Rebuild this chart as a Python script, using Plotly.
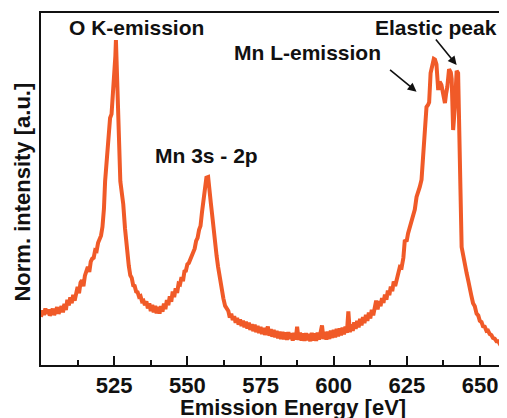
import plotly.graph_objects as go

# ---------------- data ----------------
# Region A: 500 - 520.5 eV (low-energy baseline and rise of O K)
energy_a = [500.0, 500.5, 501.0, 501.5, 502.0, 502.5, 503.0, 503.5, 504.0, 504.5,
            505.0, 505.5, 506.0, 506.5, 507.0, 507.5, 508.0, 508.5, 509.0, 509.5,
            510.0, 510.5, 511.0, 511.5, 512.0, 512.5, 513.0, 513.5, 514.0, 514.5,
            515.0, 515.5, 516.0, 516.5, 517.0, 517.5, 518.0, 518.5, 519.0, 519.5,
            520.0, 520.5]
intensity_a = [0.148, 0.168, 0.154, 0.174, 0.157, 0.171, 0.152, 0.167, 0.173, 0.154,
               0.169, 0.178, 0.158, 0.172, 0.181, 0.162, 0.188, 0.169, 0.201, 0.183,
               0.208, 0.190, 0.216, 0.198, 0.230, 0.240, 0.221, 0.253, 0.261, 0.242,
               0.275, 0.285, 0.302, 0.286, 0.318, 0.327, 0.330, 0.353, 0.351, 0.376,
               0.390, 0.398]

# Region B: O K-emission peak
energy_b = [521.0, 521.5, 521.9, 522.4, 523.0, 523.6, 524.1, 524.7, 525.1, 525.4,
            525.6, 525.9, 526.3, 526.7, 527.1, 527.6, 528.1, 528.7, 529.3, 530.0,
            530.5, 531.0, 531.5, 532.0, 532.5, 533.0, 533.5, 534.0, 534.5, 535.0,
            535.5]
intensity_b = [0.425, 0.480, 0.565, 0.615, 0.668, 0.760, 0.772, 0.845, 0.880, 0.950,
               1.000, 0.900, 0.770, 0.650, 0.565, 0.530, 0.495, 0.420, 0.350, 0.305,
               0.276, 0.268, 0.245, 0.243, 0.226, 0.224, 0.210, 0.212, 0.196, 0.198,
               0.184]

# Region C: valley and Mn 3s - 2p peak
energy_c = [536.0, 536.5, 537.0, 537.5, 538.0, 538.5, 539.0, 539.5, 540.0, 540.5,
            541.0, 541.5, 542.0, 542.5, 543.0, 543.5, 544.0, 544.5, 545.0, 545.5,
            546.0, 546.5, 547.0, 547.5, 548.0, 548.5, 549.0, 549.5, 550.0, 550.5,
            551.0, 551.5, 552.0, 552.5, 553.0, 553.5, 554.0, 554.5, 555.0, 555.5,
            556.0, 556.5, 557.1, 557.6, 558.0, 558.4, 558.9, 559.4, 560.0, 560.5,
            561.1, 561.7, 562.3, 562.9, 563.4]
intensity_c = [0.196, 0.174, 0.190, 0.166, 0.185, 0.162, 0.182, 0.159, 0.179, 0.158,
               0.181, 0.164, 0.189, 0.172, 0.200, 0.184, 0.211, 0.195, 0.226, 0.209,
               0.236, 0.222, 0.250, 0.248, 0.270, 0.258, 0.288, 0.290, 0.310, 0.314,
               0.326, 0.334, 0.350, 0.358, 0.382, 0.391, 0.416, 0.428, 0.470, 0.515,
               0.555, 0.576, 0.578, 0.545, 0.500, 0.468, 0.420, 0.375, 0.335, 0.302,
               0.262, 0.225, 0.205, 0.182, 0.172]

# Region D: broad minimum 564 - 621 eV
energy_d = [564.0, 564.5, 565.0, 565.5, 566.0, 566.5, 567.0, 567.5, 568.0, 568.5,
            569.0, 569.5, 570.0, 570.5, 571.0, 571.5, 572.0, 572.5, 573.0, 573.5,
            574.0, 574.5, 575.0, 575.5, 576.0, 576.5, 577.0, 577.5, 578.0, 578.5,
            579.0, 579.5, 580.0, 580.5, 581.0, 581.5, 582.0, 582.5, 583.0, 583.5,
            584.0, 584.5, 585.0, 585.5, 586.0, 586.5, 587.0, 587.5, 588.0, 588.5,
            589.0, 589.5, 590.0, 590.5, 591.0, 591.5, 592.0, 592.5, 593.0, 593.5,
            594.0, 594.5, 595.0, 595.5, 596.0, 596.5, 597.0, 597.5, 598.0, 598.5,
            599.0, 599.5, 600.0, 600.5, 601.0, 601.5, 602.0, 602.5, 603.0, 603.5,
            604.0, 604.5, 605.0, 605.5, 606.0, 606.5, 607.0, 607.5, 608.0, 608.5,
            609.0, 609.5, 610.0, 610.5, 611.0, 611.5, 612.0, 612.5, 613.0, 613.5,
            614.0, 614.5, 615.0, 615.5, 616.0, 616.5, 617.0, 617.5, 618.0, 618.5,
            619.0, 619.5, 620.0, 620.5, 621.0]
intensity_d = [0.166, 0.146, 0.158, 0.138, 0.150, 0.130, 0.145, 0.124, 0.140, 0.120,
               0.136, 0.116, 0.133, 0.112, 0.130, 0.108, 0.126, 0.104, 0.124, 0.101,
               0.120, 0.098, 0.117, 0.095, 0.114, 0.093, 0.112, 0.118, 0.090, 0.110,
               0.087, 0.108, 0.085, 0.105, 0.082, 0.103, 0.080, 0.102, 0.079, 0.100,
               0.077, 0.101, 0.080, 0.098, 0.075, 0.099, 0.078, 0.118, 0.077, 0.100,
               0.075, 0.097, 0.074, 0.098, 0.076, 0.096, 0.073, 0.099, 0.075, 0.097,
               0.074, 0.100, 0.078, 0.098, 0.122, 0.080, 0.102, 0.078, 0.103, 0.080,
               0.106, 0.083, 0.108, 0.085, 0.111, 0.088, 0.113, 0.091, 0.115, 0.094,
               0.118, 0.099, 0.165, 0.101, 0.125, 0.105, 0.131, 0.111, 0.136, 0.116,
               0.142, 0.122, 0.147, 0.129, 0.154, 0.136, 0.161, 0.143, 0.170, 0.153,
               0.178, 0.198, 0.171, 0.197, 0.181, 0.206, 0.191, 0.217, 0.201, 0.229,
               0.215, 0.241, 0.227, 0.257, 0.243]

# Region E: Mn L-emission, elastic peak and high-energy tail
energy_e = [621.5, 622.0, 622.6, 623.2, 623.8, 624.3, 624.9, 625.4, 626.0, 626.6,
            627.2, 627.7, 628.3, 628.9, 629.4, 630.0, 630.6, 631.1, 631.7, 632.2,
            632.6, 633.1, 633.8, 634.2, 634.6, 635.1, 635.7, 636.2, 636.8, 637.4,
            638.0, 638.4, 638.8, 639.4, 640.0, 640.3, 640.8, 641.4, 642.0, 642.5,
            643.1, 643.3, 643.7, 644.2, 644.8, 645.4, 646.0, 646.5, 647.0, 647.6,
            648.2, 648.8, 649.4, 649.9, 650.5, 651.0, 651.6, 652.2, 652.7, 653.3,
            653.9, 654.4, 655.0, 655.6, 656.2, 656.8, 657.4, 658.0, 658.6, 659.2]
intensity_e = [0.265, 0.278, 0.302, 0.300, 0.330, 0.385, 0.380, 0.405, 0.425, 0.445,
               0.470, 0.478, 0.517, 0.530, 0.548, 0.570, 0.640, 0.723, 0.794, 0.800,
               0.808, 0.898, 0.932, 0.942, 0.940, 0.925, 0.846, 0.872, 0.862, 0.825,
               0.806, 0.835, 0.855, 0.910, 0.900, 0.880, 0.723, 0.795, 0.905, 0.898,
               0.692, 0.540, 0.363, 0.335, 0.300, 0.283, 0.258, 0.230, 0.214, 0.190,
               0.181, 0.158, 0.152, 0.136, 0.132, 0.119, 0.118, 0.105, 0.106, 0.095,
               0.092, 0.083, 0.081, 0.073, 0.073, 0.064, 0.064, 0.055, 0.055, 0.047]

major_ticks = [525, 550, 575, 600, 625, 650]
major_labels = ["525", "550", "575", "600", "625", "650"]
minor_ticks = [512.5, 537.5, 562.5, 587.5, 612.5, 637.5]

peak_labels = ["O K-emission", "Mn 3s - 2p", "Mn L-emission", "Elastic peak"]
peak_label_x = [532.6, 556.5, 591.0, 635.1]
peak_label_y = [1.037, 0.646, 0.963, 1.037]

arrow_tip_x = [628.3, 642.0]
arrow_tip_y = [0.841, 0.923]
arrow_dx = [-28, -22]
arrow_dy = [-23, -27]

x_title = "Emission Energy [eV]"
y_title = "Norm. intensity [a.u.]"

# ---------------- assemble ----------------
energy = energy_a + energy_b + energy_c + energy_d + energy_e
intensity = intensity_a + intensity_b + intensity_c + intensity_d + intensity_e
assert len(energy) == len(intensity)

FONT = "Liberation Sans, Arial, Helvetica, sans-serif"
INK = "#111111"

fig = go.Figure()
fig.add_trace(go.Scatter(
    x=energy, y=intensity, mode="lines",
    line=dict(color="#F05A28", width=4),
    hoverinfo="skip",
))

annotations = []
for t, x, y in zip(peak_labels, peak_label_x, peak_label_y):
    annotations.append(dict(
        x=x, y=y, xref="x", yref="y", text=t, showarrow=False,
        xanchor="center", yanchor="middle",
        font=dict(family=FONT, size=21, color=INK, weight="bold"),
    ))
for x, y, dx, dy in zip(arrow_tip_x, arrow_tip_y, arrow_dx, arrow_dy):
    annotations.append(dict(
        x=x, y=y, xref="x", yref="y", text="", showarrow=True,
        ax=dx, ay=dy, arrowhead=2, arrowsize=1.1, arrowwidth=1.6,
        arrowcolor=INK,
    ))
annotations.append(dict(
    x=0.541, y=-0.122, xref="paper", yref="paper", text=x_title,
    showarrow=False, xanchor="center", yanchor="middle",
    font=dict(family=FONT, size=22, color=INK, weight="bold"),
))
annotations.append(dict(
    x=-0.0386, y=0.49, xref="paper", yref="paper", text=y_title,
    showarrow=False, xanchor="center", yanchor="middle", textangle=-90,
    font=dict(family=FONT, size=22, color=INK, weight="bold"),
))

# The page body adds an 8 px offset, so the figure is 8 px smaller and the
# margins are shifted by 8 px to land the plot area where the reference has it.
fig.update_layout(
    width=499, height=410,
    margin=dict(l=33, r=0, t=5, b=53),
    paper_bgcolor="white", plot_bgcolor="white",
    showlegend=False,
    annotations=annotations,
    xaxis=dict(
        range=[500, 659.2], showgrid=False, zeroline=False,
        showline=True, linecolor=INK, linewidth=2, mirror=True,
        ticks="inside", ticklen=9, tickwidth=1.5, tickcolor=INK,
        tickvals=major_ticks, ticktext=major_labels,
        tickfont=dict(family=FONT, size=22, color=INK, weight="bold"),
        minor=dict(tickvals=minor_ticks, ticks="inside", ticklen=5,
                   tickwidth=1.5, tickcolor=INK, showgrid=False),
    ),
    yaxis=dict(
        range=[0, 1.083], showgrid=False, zeroline=False,
        showline=True, linecolor=INK, linewidth=2,
        showticklabels=False, ticks="",
    ),
)

fig.write_html("out.html")
